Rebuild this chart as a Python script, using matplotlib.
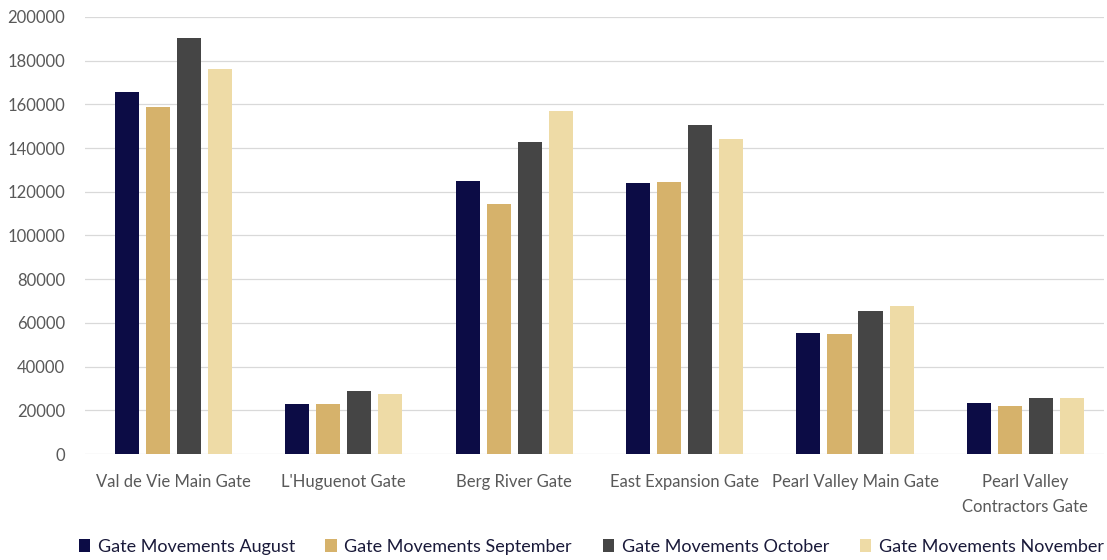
import matplotlib
matplotlib.use("Agg")
import matplotlib.pyplot as plt
import numpy as np

categories = ["Val de Vie Main Gate", "L'Huguenot Gate", "Berg River Gate",
              "East Expansion Gate", "Pearl Valley Main Gate",
              "Pearl Valley\nContractors Gate"]
series_names = ["Gate Movements August", "Gate Movements September",
                "Gate Movements October", "Gate Movements November"]
august = [165500, 22900, 124900, 123900, 55500, 23300]
september = [158700, 22900, 114300, 124500, 54900, 21800]
october = [190500, 28800, 142900, 150400, 65600, 25600]
november = [176200, 27600, 157000, 144000, 67700, 25600]
yticks = [0, 20000, 40000, 60000, 80000, 100000, 120000, 140000, 160000, 180000, 200000]

colors = ["#0c0c45", "#d6b26b", "#454545", "#eedba6"]

plt.rcParams['font.family'] = ['Lato', 'DejaVu Sans']

fig = plt.figure(figsize=(11.07, 5.6), dpi=100)
ax = fig.add_axes([0.0766, 0.189, 0.9205, 0.781])

x = np.arange(len(categories))
width = 0.141
step = 0.182
for i, (vals, name) in enumerate(zip([august, september, october, november], series_names)):
    ax.bar(x + (i - 1.5) * step, vals, width, color=colors[i], label=name, zorder=3)

ax.set_xlim(-0.52, len(categories) - 0.54)
ax.set_ylim(0, 200000)
ax.set_yticks(yticks)
ax.set_yticklabels([str(v) for v in yticks], fontsize=12, color="#595959")
ax.set_xticks(x)
ax.set_xticklabels(categories, fontsize=12, color="#595959", linespacing=1.7)
ax.tick_params(axis='both', length=0)
ax.tick_params(axis='y', pad=14)
ax.tick_params(axis='x', pad=14)
ax.grid(axis='y', color="#d9d9d9", linewidth=0.9, zorder=0)
for s in ax.spines.values():
    s.set_visible(False)

leg = fig.legend(loc='lower center', bbox_to_anchor=(0.534, -0.02), ncol=4, frameon=False,
                 fontsize=13, handlelength=0.65, handleheight=0.7, handletextpad=0.4,
                 columnspacing=1.7)
for t in leg.get_texts():
    t.set_color("#1a1a3a")

fig.savefig("out.png", dpi=100, facecolor="white")
